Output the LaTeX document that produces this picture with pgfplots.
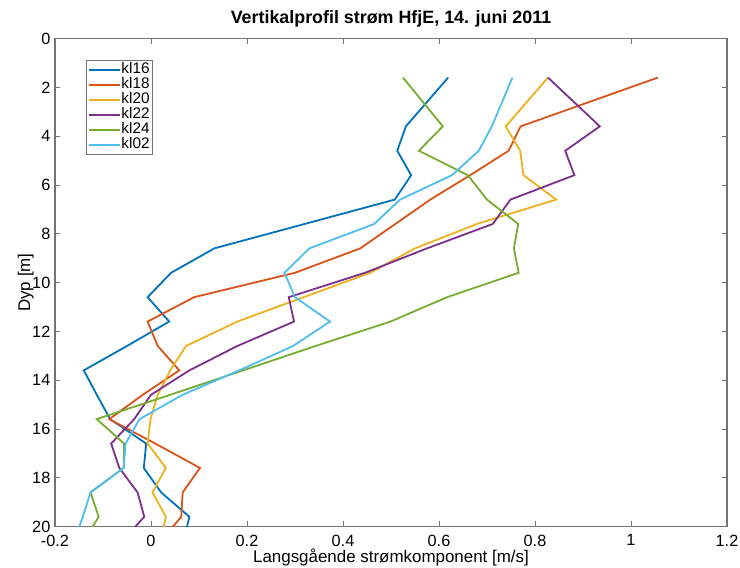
\documentclass[border=0pt]{standalone}
\usepackage{pgfplots}
\pgfplotsset{compat=1.18}
\usepackage{fontspec}
\setmainfont{Liberation Sans}
\definecolor{c1}{rgb}{0,0.447,0.741}
\definecolor{c2}{rgb}{0.85,0.325,0.098}
\definecolor{c3}{rgb}{0.929,0.694,0.125}
\definecolor{c4}{rgb}{0.494,0.184,0.556}
\definecolor{c5}{rgb}{0.466,0.674,0.188}
\definecolor{c6}{rgb}{0.301,0.745,0.933}
\definecolor{axgray}{gray}{0.45}
\begin{document}
\begin{tikzpicture}
\begin{axis}[
  width=504pt, height=366pt, scale only axis,
  xmin=-0.2, xmax=1.2, ymin=0, ymax=20, y dir=reverse,
  xtick={-0.2,0,0.2,0.4,0.6,0.8,1,1.2},
  xticklabels={-0.2,0,0.2,0.4,0.6,0.8,1,1.2},
  ytick={0,2,4,6,8,10,12,14,16,18,20},
  yticklabels={0,2,4,6,8,10,12,14,16,18,20},
  tick align=inside, major tick length=4pt,
  axis line style={axgray, line width=0.8pt},
  tick style={axgray, line width=0.6pt},
  ticklabel style={font=\fontsize{12.2}{14}\selectfont},
  xticklabel style={inner sep=1pt, yshift=-5pt},
  yticklabel style={inner sep=0.5pt, xshift=-2.8pt},
  title={\bfseries Vertikalprofil strøm HfjE, 14. juni 2011},
  title style={font=\fontsize{13.4}{15}\selectfont, yshift=-1pt},
  xlabel={Langsgående strømkomponent [m/s]},
  ylabel={Dyp [m]},
  label style={font=\fontsize{12.7}{15}\selectfont},
  xlabel style={at={(axis description cs:0.5,0)}, anchor=north, inner sep=0.5pt, yshift=-16.3pt},
  ylabel style={yshift=-5pt},
  legend cell align=left,
  legend style={at={(0.046,0.956)}, anchor=north west, draw=axgray,
    font=\fontsize{11.5}{11.5}\selectfont, row sep=0pt,
    inner sep=1.5pt, nodes={inner sep=0.6pt, text height=8.05pt, text depth=2.0pt}},
  legend image code/.code={\draw[#1, line width=1.6pt] (0cm,0cm) -- (0.8cm,0cm);},
]
\addplot[c1, line width=1.35pt] coordinates {(0.619,1.6)(0.531,3.6)(0.513,4.6)(0.542,5.6)(0.508,6.6)(0.320,7.6)(0.132,8.6)(0.042,9.6)(-0.007,10.6)(0.038,11.6)(-0.050,12.6)(-0.140,13.6)(-0.113,14.6)(-0.085,15.6)(-0.010,16.6)(-0.015,17.6)(0.021,18.6)(0.080,19.6)(0.068,20.6)};
\addlegendentry{kl16}
\addplot[c2, line width=1.35pt] coordinates {(1.056,1.6)(0.770,3.6)(0.745,4.6)(0.665,5.6)(0.582,6.6)(0.509,7.6)(0.436,8.6)(0.300,9.6)(0.090,10.6)(-0.007,11.6)(0.014,12.6)(0.059,13.6)(-0.017,14.6)(-0.087,15.6)(0.009,16.6)(0.102,17.6)(0.066,18.6)(0.063,19.6)(0.02,20.6)};
\addlegendentry{kl18}
\addplot[c3, line width=1.35pt] coordinates {(0.827,1.6)(0.739,3.6)(0.769,4.6)(0.776,5.6)(0.844,6.6)(0.679,7.6)(0.55,8.6)(0.457,9.6)(0.318,10.6)(0.180,11.6)(0.073,12.6)(0.040,13.6)(0.014,14.6)(-0.001,15.6)(-0.007,16.6)(0.031,17.6)(0.003,18.6)(0.031,19.6)(0.02,20.6)};
\addlegendentry{kl20}
\addplot[c4, line width=1.35pt] coordinates {(0.827,1.6)(0.935,3.6)(0.863,4.6)(0.882,5.6)(0.749,6.6)(0.712,7.6)(0.575,8.6)(0.446,9.6)(0.287,10.6)(0.298,11.6)(0.180,12.6)(0.080,13.6)(0.000,14.6)(-0.035,15.6)(-0.083,16.6)(-0.066,17.6)(-0.028,18.6)(-0.014,19.6)(-0.06,20.6)};
\addlegendentry{kl22}
\addplot[c5, line width=1.35pt] coordinates {(0.525,1.6)(0.608,3.6)(0.558,4.6)(0.660,5.6)(0.700,6.6)(0.765,7.6)(0.756,8.6)(0.766,9.6)(0.617,10.6)(0.499,11.6)(0.343,12.6)(0.192,13.6)(0.040,14.6)(-0.113,15.6)(-0.056,16.6)(-0.057,17.6)(-0.126,18.6)(-0.109,19.6)(-0.14,20.6)};
\addlegendentry{kl24}
\addplot[c6, line width=1.35pt] coordinates {(0.753,1.6)(0.710,3.6)(0.683,4.6)(0.627,5.6)(0.519,6.6)(0.465,7.6)(0.330,8.6)(0.278,9.6)(0.300,10.6)(0.373,11.6)(0.296,12.6)(0.184,13.6)(0.066,14.6)(-0.024,15.6)(-0.053,16.6)(-0.057,17.6)(-0.126,18.6)(-0.142,19.6)(-0.16,20.6)};
\addlegendentry{kl02}
\end{axis}
\path (current axis.south west) ++(-41.25pt,-29.5pt) coordinate (bl);
\path (current axis.north east) ++(9.75pt,28.9pt) coordinate (tr);
\path (bl) -- (tr);
\end{tikzpicture}
\end{document}
